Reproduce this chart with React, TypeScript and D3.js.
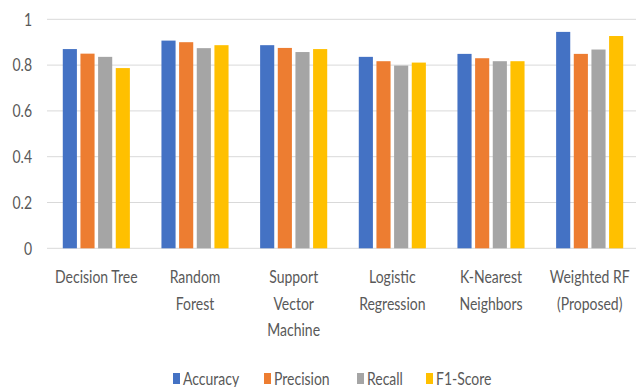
import React from 'react';
import * as d3 from 'd3';

const categoryLines = [
  ['Decision Tree'],
  ['Random', 'Forest'],
  ['Support', 'Vector', 'Machine'],
  ['Logistic', 'Regression'],
  ['K-Nearest', 'Neighbors'],
  ['Weighted RF', '(Proposed)'],
];
const categories = categoryLines.map(l => l.join(' '));

const seriesNames = ['Accuracy', 'Precision', 'Recall', 'F1-Score'];
const seriesColors = ['#4472C4', '#ED7D31', '#A5A5A5', '#FFC000'];

const accuracy = [0.87, 0.907, 0.887, 0.836, 0.849, 0.945];
const precision = [0.85, 0.9, 0.875, 0.817, 0.83, 0.849];
const recall = [0.836, 0.874, 0.857, 0.798, 0.817, 0.868];
const f1Score = [0.787, 0.887, 0.87, 0.811, 0.817, 0.927];

const yTicks = [0, 0.2, 0.4, 0.6, 0.8, 1];

const width = 636;
const height = 387;
const margin = { top: 19.3, right: -3, bottom: 138.7, left: 47 };
const font = 'Lato, "Open Sans", sans-serif';
const textColor = '#595959';
const sx = 0.8; // glyphs in the picture are horizontally squeezed

const App: React.FC = () => {
  const values = [accuracy, precision, recall, f1Score];

  const x = d3.scaleBand<string>()
    .domain(categories)
    .range([margin.left, width - margin.right])
    .paddingInner(0.32)
    .paddingOuter(0.16);

  const xs = d3.scaleBand<string>()
    .domain(seriesNames)
    .range([0, x.bandwidth()])
    .paddingInner(0.2);

  const y = d3.scaleLinear()
    .domain([0, 1])
    .range([height - margin.bottom, margin.top]);

  // legend layout
  const legendWidths = [59, 61, 37, 61];
  const swW = 7, swH = 11, swGap = 3, itemGap = 22;
  const legendTotal = legendWidths.reduce((a, w) => a + swW + swGap + w, 0) + itemGap * 3;
  let lx = (margin.left + width - margin.right) / 2 - legendTotal / 2 - 8;
  const legendItems = seriesNames.map((name, i) => {
    const item = { name, x: lx, color: seriesColors[i] };
    lx += swW + swGap + legendWidths[i] + itemGap;
    return item;
  });

  return (
    <svg width={width} height={height} style={{ position: 'absolute', left: 0, top: 0, background: '#fff' }}>
      {/* gridlines */}
      {yTicks.map(t => (
        <line key={t} x1={margin.left} x2={width} y1={y(t)} y2={y(t)} stroke="#D9D9D9" strokeWidth={1} />
      ))}
      {/* y labels */}
      {yTicks.map(t => (
        <text key={'l' + t} transform={`translate(32,${y(t)}) scale(${sx},1)`} dy="0.36em"
          textAnchor="end" fontFamily={font} fontSize={17.5} fill={textColor}>
          {d3.format('~g')(t)}
        </text>
      ))}
      {/* bars */}
      {categories.map((c, ci) => (
        <g key={c} transform={`translate(${x(c)},0)`}>
          {seriesNames.map((s, si) => (
            <rect key={s} x={xs(s)} y={y(values[si][ci])} width={xs.bandwidth()}
              height={y(0) - y(values[si][ci])} fill={seriesColors[si]} />
          ))}
        </g>
      ))}
      {/* x labels */}
      {categories.map((c, ci) => (
        <g key={'x' + c}>
          {categoryLines[ci].map((line, li) => (
            <text key={li} transform={`translate(${(x(c) as number) + x.bandwidth() / 2},${283.3 + li * 26.5}) scale(${sx},1)`}
              textAnchor="middle" fontFamily={font} fontSize={17.5} fill={textColor}>
              {line}
            </text>
          ))}
        </g>
      ))}
      {/* legend */}
      {legendItems.map(it => (
        <g key={it.name}>
          <rect x={it.x} y={373} width={swW} height={swH} fill={it.color} />
          <text transform={`translate(${it.x + swW + swGap},385) scale(${sx},1)`}
            fontFamily={font} fontSize={17.5} fill={textColor}>
            {it.name}
          </text>
        </g>
      ))}
    </svg>
  );
};

export default App;
